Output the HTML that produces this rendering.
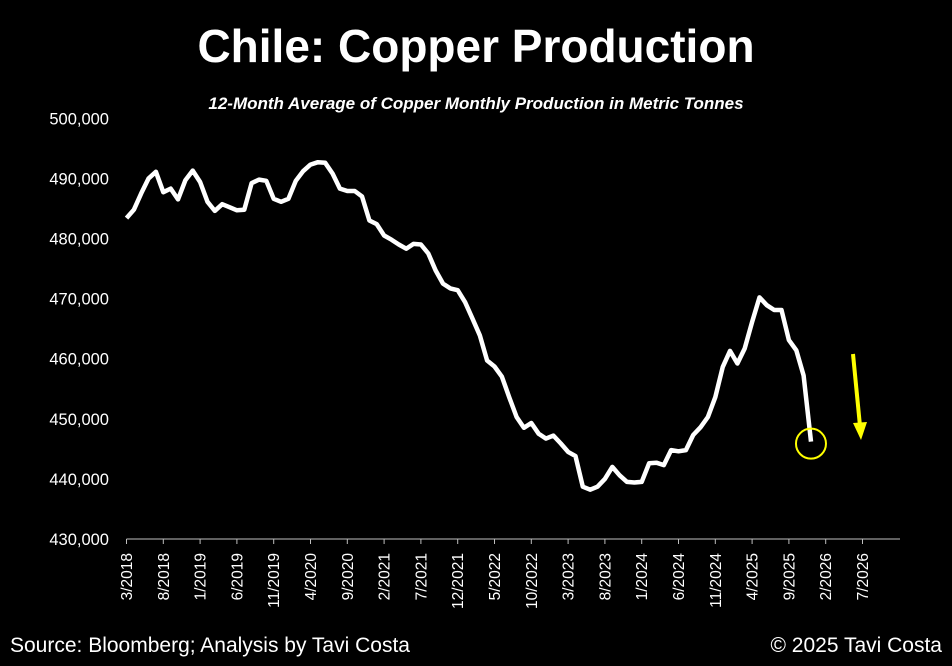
<!DOCTYPE html>
<html><head><meta charset="utf-8"><style>
html,body{margin:0;padding:0;background:#000;}
svg{display:block;}
text{font-family:"Liberation Sans",sans-serif;fill:#fff;}
</style></head><body>
<svg id="chart" width="952" height="666" viewBox="0 0 952 666">
<text x="476" y="62" text-anchor="middle" font-size="46" font-weight="bold">Chile: Copper Production</text>
<text x="476" y="109" text-anchor="middle" font-size="17" font-weight="bold" font-style="italic">12-Month Average of Copper Monthly Production in Metric Tonnes</text>
<g id="yaxis"></g>
<g id="xaxis"></g>
<g id="plot"></g>
<text x="10" y="652" font-size="21">Source: Bloomberg; Analysis by Tavi Costa</text>
<text x="942" y="652" text-anchor="end" font-size="21">© 2025 Tavi Costa</text>
</svg>
<script>
// Data: 12-month average copper production (thousand tonnes), monthly from 3/2018
const startYear = 2018, startMonth = 3;
const values = [483.4,484.8,487.5,490.0,491.1,487.7,488.3,486.5,489.7,491.3,489.4,486.1,484.6,485.7,485.2,484.7,484.8,489.2,489.8,489.6,486.6,486.1,486.6,489.6,491.2,492.3,492.7,492.6,490.8,488.3,487.9,487.9,487.0,483.0,482.4,480.5,479.8,479.0,478.3,479.1,479.0,477.5,474.7,472.5,471.7,471.4,469.4,466.7,463.9,459.7,458.7,457.0,453.6,450.3,448.5,449.3,447.5,446.7,447.2,445.9,444.5,443.8,438.7,438.2,438.7,440.0,442.0,440.6,439.5,439.4,439.5,442.6,442.7,442.3,444.8,444.6,444.8,447.3,448.6,450.3,453.6,458.6,461.3,459.2,461.7,466.1,470.2,468.9,468.1,468.1,463.1,461.4,457.2,446.2];
const yTicks = [430,440,450,460,470,480,490,500];
const xTickLabels = ["3/2018","8/2018","1/2019","6/2019","11/2019","4/2020","9/2020","2/2021","7/2021","12/2021","5/2022","10/2022","3/2023","8/2023","1/2024","6/2024","11/2024","4/2025","9/2025","2/2026","7/2026"];
const xTickMonths = [0,5,10,15,20,25,30,35,40,45,50,55,60,65,70,75,80,85,90,95,100];

const NS="http://www.w3.org/2000/svg";
const X0=126.5, PX_PER_MONTH=7.36, Y0=539, YMIN=430, PX_PER_K=6.01;
function xs(i){return X0+i*PX_PER_MONTH;}
function ys(v){return Y0-(v-YMIN)*PX_PER_K;}
function mk(tag,attrs,parent){const e=document.createElementNS(NS,tag);for(const k in attrs)e.setAttribute(k,attrs[k]);parent.appendChild(e);return e;}

const yax=document.getElementById('yaxis');
yTicks.forEach(t=>{
  const tx=mk('text',{x:109,y:ys(t)+6,'text-anchor':'end','font-size':16.5},yax);
  tx.textContent=(t*1000).toLocaleString('en-US');
  
  
});

const xax=document.getElementById('xaxis');
const axl=mk('line',{x1:X0,y1:Y0,x2:900,y2:Y0,stroke:'#bfbfbf','stroke-width':1},xax);


xTickMonths.forEach((m,k)=>{
  const x=xs(m);
  const tk=mk('line',{x1:x,y1:Y0,x2:x,y2:Y0+5,stroke:'#bfbfbf','stroke-width':1},xax);
  
  
  const tx=mk('text',{x:0,y:0,'text-anchor':'end','font-size':15.5,transform:`translate(${x+5.5},${Y0+14}) rotate(-90)`},xax);
  tx.textContent=xTickLabels[k];
  
  
});

const plot=document.getElementById('plot');
const pts=values.map((v,i)=>xs(i).toFixed(1)+','+ys(v).toFixed(1)).join(' ');
const line=mk('polyline',{points:pts,fill:'none',stroke:'#fff','stroke-width':4.5,'stroke-linejoin':'round','stroke-linecap':'butt'},plot);


const li=values.length-1;
const c=mk('circle',{cx:xs(li),cy:ys(values[li])+2,r:15,fill:'none',stroke:'#ffff00','stroke-width':2},plot);


const ar=mk('line',{x1:853,y1:354,x2:860,y2:426,stroke:'#ffff00','stroke-width':4},plot);


const ah=mk('polygon',{points:'853,423 867,422 861,440',fill:'#ffff00'},plot);


</script>
</body></html>
